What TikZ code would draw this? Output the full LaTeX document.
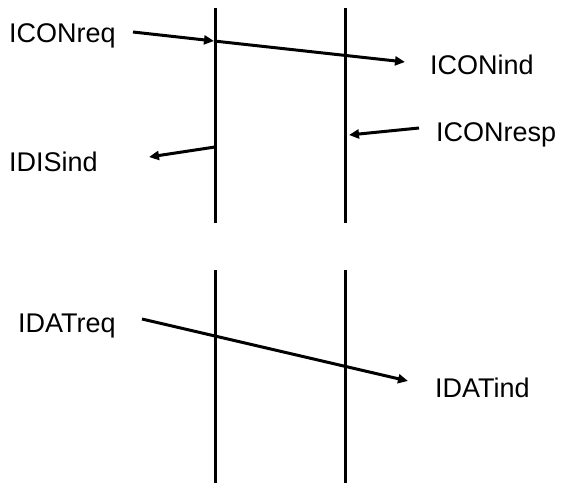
\documentclass[tikz,border=0pt]{standalone}
\usepackage{fontspec}
\setmainfont{Liberation Sans}
\usetikzlibrary{arrows.meta}

\begin{document}
\begin{tikzpicture}[x=1pt,y=-1pt,
    lbl/.style={anchor=base west,inner sep=0pt,font=\fontsize{27}{32}\selectfont},
    msg/.style={line width=3pt,-{Triangle[length=10pt,width=9pt]}},
    lifeline/.style={line width=3pt}]
    \useasboundingbox (0,0) rectangle (561,489);
    % connection phase
    \draw[lifeline] (215,8)--(215,223);
    \draw[lifeline] (345,8)--(345,223);
    \node[lbl](CONreq) at (9,43){ICONreq};
    \node[lbl](CONind) at (430,75){ICONind};
    \node[lbl](CONresp) at (436,142){ICONresp};
    \node[lbl](DISind) at (9,171){IDISind};
    \coordinate (reqA) at (133,32);
    \coordinate (reqB) at (214,41);
    \coordinate (reqC) at (405,62);
    \coordinate (respA) at (419,128);
    \coordinate (respB) at (349,135);
    \coordinate (disA) at (215,147);
    \coordinate (disB) at (149,157);
    \draw[msg] (reqA)--(reqB);
    \draw[msg] (reqB)--(reqC);
    \draw[msg] (respA)--(respB);
    \draw[msg] (disA)--(disB);
    % data phase
    \draw[lifeline] (215,270)--(215,483);
    \draw[lifeline] (345,270)--(345,483);
    \node[lbl](DATreq) at (18,332){IDATreq};
    \node[lbl](DATind) at (435,397){IDATind};
    \coordinate (datA) at (142,319);
    \coordinate (datB) at (408,381);
    \draw[msg] (datA)--(datB);
\end{tikzpicture}
\end{document}
